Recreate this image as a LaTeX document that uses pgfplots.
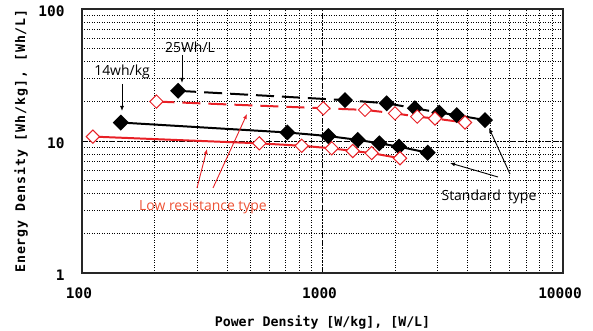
\documentclass[border=0pt]{standalone}
\usepackage{fontspec}
\usepackage{pgfplots}
\pgfplotsset{compat=1.18}
\usetikzlibrary{arrows.meta}
\setmainfont{Open Sans}
\newfontfamily\gothic{DejaVu Sans Mono}
\definecolor{myred}{RGB}{232,32,38}
\definecolor{txtred}{RGB}{238,82,52}

\begin{document}
\begin{tikzpicture}
\path[use as bounding box] (-82bp,-58bp) rectangle (511bp,273bp);
\begin{axis}[
  at={(0,0)}, anchor=south west,
  scale only axis, width=481bp, height=264bp,
  xmode=log, ymode=log,
  xmin=100, xmax=10000, ymin=1, ymax=100,
  xtick={100,1000,10000}, xticklabels={100,1000,10000},
  ytick={1,10,100}, yticklabels={1,10,100},
  grid=both,
  major grid style={black, line width=0.6pt, dash pattern=on 2pt off 1.5pt},
  minor grid style={black, line width=0.5pt, dash pattern=on 1pt off 1.5pt},
  major tick length=0pt, minor tick length=0pt,
  axis line style={line width=2pt, black!85},
  tick label style={font=\gothic\bfseries\fontsize{14.5}{14.5}\selectfont},
  xticklabel style={yshift=-11bp, xshift=-3bp},
  yticklabel style={xshift=-14bp, yshift=-2bp},
  xlabel={Power Density [W/kg], [W/L]},
  ylabel={Energy Density [Wh/kg], [Wh/L]},
  xlabel style={at={(axis description cs:0.5,-0.189)}, anchor=center,
     font=\gothic\bfseries\fontsize{13.3}{13.3}\selectfont},
  ylabel style={at={(axis description cs:-0.1268,0.5)}, anchor=center,
     font=\gothic\bfseries\fontsize{13.3}{13.3}\selectfont\addfontfeature{LetterSpace=7}},
  clip=false,
]
% standard type, Wh/kg
\addplot[black, line width=2pt, mark=square*, mark size=4.7pt,
  mark options={solid, rotate=45, fill=black}] coordinates {
  (145,13.8) (714,11.6) (1057,10.9) (1401,10.2) (1723,9.6) (2080,9.06) (2738,8.15)};
% standard type, Wh/L
\addplot[black, line width=2pt, dash pattern=on 18bp off 8bp, mark=square*, mark size=4.7pt,
  mark options={solid, rotate=45, fill=black}] coordinates {
  (251,24.0) (1240,20.4) (1849,19.3) (2424,17.7) (3060,16.4) (3614,15.7) (4738,14.4)};
% low resistance, Wh/L
\addplot[myred, line width=2pt, dash pattern=on 18bp off 8bp, mark=square*, mark size=4.7pt,
  mark options={solid, rotate=45, fill=white, line width=1pt}] coordinates {
  (204,19.9) (1008,17.7) (1502,17.2) (2002,16.2) (2477,15.3) (2937,14.8) (3913,13.8)};
% low resistance, Wh/kg
\addplot[myred, line width=2pt, mark=square*, mark size=4.7pt,
  mark options={solid, rotate=45, fill=white, line width=1pt}] coordinates {
  (111,10.8) (546,9.6) (819,9.2) (1092,8.8) (1335,8.4) (1601,8.1) (2100,7.4)};
\end{axis}
% annotations (bp relative to axis lower-left)
\node[font=\fontsize{14}{14}\selectfont] at (108bp,226bp) {25Wh/L};
\draw[line width=0.9pt, -{Latex[length=5bp,width=4bp]}] (100bp,218bp) -- (100bp,190bp);
\node[font=\fontsize{14}{14}\selectfont] at (40bp,201bp) {14wh/kg};
\draw[line width=0.9pt, -{Latex[length=5bp,width=4bp]}] (40bp,189bp) -- (40bp,162bp);
\node[font=\fontsize{14}{14}\selectfont, text=txtred] at (121bp,66bp) {Low resistance type};
\draw[myred, line width=0.9pt, -{Latex[length=5bp,width=4bp]}] (115bp,85bp) -- (125bp,124bp);
\draw[myred, line width=0.9pt, -{Latex[length=5bp,width=4bp]}] (131bp,85bp) -- (165bp,159bp);
\node[font=\fontsize{14}{14}\selectfont] at (407bp,76bp) {Standard\ \ type};
\draw[line width=0.9pt, -{Latex[length=5bp,width=4bp]}] (416bp,96bp) -- (368bp,110bp);
\draw[line width=0.9pt, -{Latex[length=5bp,width=4bp]}] (428bp,99bp) -- (407bp,145bp);
\end{tikzpicture}
\end{document}
